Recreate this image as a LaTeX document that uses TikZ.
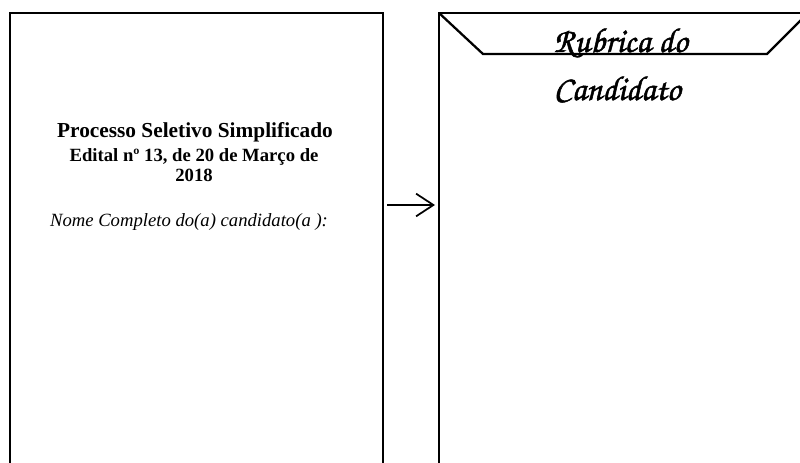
\documentclass[tikz,border=0pt]{standalone}
\usepackage{fontspec}
\setmainfont{Liberation Serif}
\newfontfamily\rubricafont[AutoFakeBold=1.5]{texgyrechorus-mediumitalic.otf}
\usetikzlibrary{arrows.meta,positioning}

\begin{document}
\begin{tikzpicture}[x=0.75pt,y=-0.75pt,
    folha/.style={line width=1.7pt},
    titulo/.style={font=\bfseries\fontsize{16}{19}\selectfont, anchor=base},
    edital/.style={font=\bfseries\fontsize{14}{17}\selectfont, anchor=base},
    nome/.style={font=\itshape\fontsize{14}{17}\selectfont, anchor=base},
    rubrica/.style={font=\rubricafont\bfseries\fontsize{26}{30}\selectfont, anchor=base west},
    seta/.style={-{Straight Barb[length=13pt,width=17pt]}, line width=1.3pt}]
    \useasboundingbox (0,0) rectangle (800,463);
    % Folha de respostas e envelope
    \begin{scope}
        \clip (0,0) rectangle (800,463);
        \draw[folha] (10,520) -- (10,13) -- (383,13) -- (383,520);
        \draw[folha] (439,520) -- (439,13) -- (860,13);
        \draw[folha] (439,13) -- (483,54) -- (767,54) -- (808,13);
    \end{scope}
    % Textos da folha
    \node[titulo] (processo) at (195,138) {Processo Seletivo Simplificado};
    \node[edital] (edital) at (194,162) {Edital nº 13, de 20 de Março de};
    \node[edital] (ano) at (194,182) {2018};
    \node[nome] (nome) at (189,227) {Nome Completo do(a) candidato(a ):};
    % Textos do envelope
    \node[rubrica] (rubrica) at (549,52) {Rubrica do};
    \node[rubrica] (candidato) at (549,100) {Candidato};
    % Seta
    \coordinate (saida) at (387,205);
    \coordinate (entrada) at (435,205);
    \draw[seta] (saida) -- (entrada);
\end{tikzpicture}
\end{document}
